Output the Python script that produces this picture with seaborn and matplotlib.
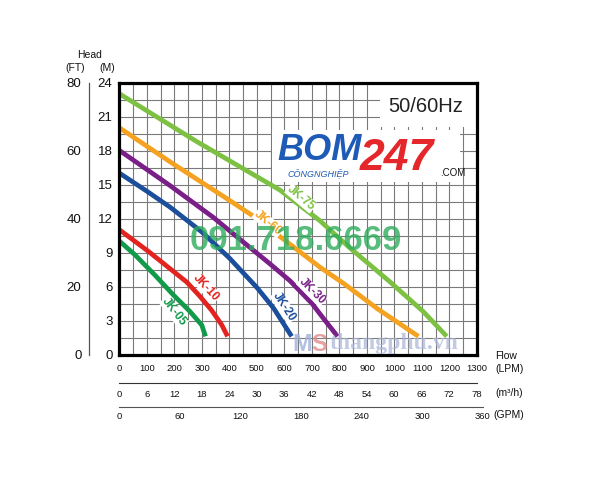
import matplotlib
matplotlib.use("Agg")
import matplotlib.pyplot as plt
from matplotlib.ticker import MultipleLocator, FixedLocator
from matplotlib.patches import Rectangle
import seaborn as sns
import pandas as pd

# ---------------- data ----------------
models = ["JK-05", "JK-10", "JK-20", "JK-30", "JK-60", "JK-75"]

flow_jk05 = [0, 56, 129, 196, 256, 299, 313]
head_jk05 = [10.0, 8.8, 7.0, 5.25, 3.8, 2.6, 1.6]

flow_jk10 = [0, 105, 244, 290, 335, 372, 393]
head_jk10 = [11.0, 9.1, 6.4, 5.2, 3.9, 2.6, 1.6]

flow_jk20 = [0, 100, 184, 300, 400, 500, 560, 626]
head_jk20 = [16.0, 14.4, 13.0, 10.8, 8.5, 5.9, 4.1, 1.6]

flow_jk30 = [0, 184, 341, 426, 547, 620, 700, 741, 793]
head_jk30 = [18.0, 14.9, 12.1, 10.4, 8.0, 6.5, 4.5, 3.2, 1.6]

flow_jk60 = [0, 184, 400, 487, 600, 729, 819, 940, 1087]
head_jk60 = [20.0, 17.0, 13.6, 12.2, 10.1, 7.7, 6.2, 4.0, 1.6]

flow_jk75 = [0, 280, 584, 729, 838, 984, 1104, 1190]
head_jk75 = [23.0, 18.8, 14.5, 11.8, 9.4, 6.4, 3.8, 1.6]

colors = ["#109A4A", "#E2231F", "#1B4F9B", "#7A1E88", "#F4A21F", "#7CC142"]

label_flow = [198, 315, 598, 700, 540, 660]
label_head = [3.75, 5.9, 4.2, 5.6, 11.6, 13.8]
label_rot = [-52, -47, -57, -45, -40, -40]

lpm_ticks = list(range(0, 1301, 100))
m3h_ticks = list(range(0, 79, 6))
gpm_ticks = list(range(0, 361, 60))
ft_ticks = [0, 20, 40, 60, 80]
m_ticks = list(range(0, 25, 3))

# ---------------- build table ----------------
flows = [flow_jk05, flow_jk10, flow_jk20, flow_jk30, flow_jk60, flow_jk75]
heads = [head_jk05, head_jk10, head_jk20, head_jk30, head_jk60, head_jk75]
rows = []
for m, fl, hd in zip(models, flows, heads):
    for f, h in zip(fl, hd):
        rows.append({"model": m, "flow": f, "head": h})
df = pd.DataFrame(rows)

# ---------------- style ----------------
sns.set_theme(style="white")
plt.rcParams["font.family"] = ["Liberation Sans", "DejaVu Sans"]

W, H = 597, 480
fig = plt.figure(figsize=(W / 100, H / 100), dpi=100)
fig.patch.set_facecolor("white")


def rect(x0, y0, x1, y1):
    return [x0 / W, 1 - y1 / H, (x1 - x0) / W, (y1 - y0) / H]


def ftxt(x, y, s, **kw):
    return fig.text(x / W, 1 - y / H, s, **kw)


# ---------------- main axes ----------------
ax = fig.add_axes(rect(119.5, 82.5, 477, 354.5))
ax.set_facecolor("white")
ax.set_xlim(0, 1300)
ax.set_ylim(0, 24)
ax.xaxis.set_major_locator(FixedLocator(lpm_ticks))
ax.xaxis.set_minor_locator(MultipleLocator(50))
ax.yaxis.set_major_locator(FixedLocator(m_ticks))
ax.yaxis.set_minor_locator(MultipleLocator(1.5))
ax.set_axisbelow(True)
ax.grid(which="both", color="#7a7a7a", linewidth=0.8)
ax.tick_params(which="both", length=0)
ax.tick_params(axis="x", labelsize=6.8, pad=7, colors="#111")
ax.tick_params(axis="y", labelsize=9.5, pad=5, colors="#111")
for sp in ax.spines.values():
    sp.set_color("black")
    sp.set_linewidth(2.3)
    sp.set_zorder(5)

# white boxes (frequency box + logo background)
ax.add_patch(Rectangle((0.7287, 0.836), 0.2713, 0.164, transform=ax.transAxes,
                       facecolor="white", edgecolor="none", zorder=1.5))
ax.add_patch(Rectangle((0.4266, 0.634), 0.526, 0.19, transform=ax.transAxes,
                       facecolor="white", edgecolor="none", zorder=1.5))

sns.lineplot(data=df, x="flow", y="head", hue="model", hue_order=models,
             palette=colors, sort=False, estimator=None, linewidth=3.4,
             legend=False, ax=ax, zorder=3)
for ln in ax.get_lines():
    ln.set_solid_capstyle("butt")
    ln.set_solid_joinstyle("round")
ax.set_xlabel("")
ax.set_ylabel("")

for m, c, xf, yh, r in zip(models, colors, label_flow, label_head, label_rot):
    ax.text(xf, yh, m, color=c, fontsize=8.5, fontweight="bold", rotation=r,
            ha="center", va="center", rotation_mode="anchor", zorder=4,
            bbox=dict(facecolor="white", edgecolor="none", pad=0.3))

ax.text(0.857, 0.91, "50/60Hz", transform=ax.transAxes, fontsize=14.5,
        color="#222", ha="center", va="center", zorder=4)

# ---------------- FT axis ----------------
axft = fig.add_axes(rect(88.5, 82.5, 88.7, 354.5))
axft.patch.set_visible(False)
axft.set_ylim(0, 80)
axft.set_xticks([])
axft.yaxis.set_major_locator(FixedLocator(ft_ticks))
for k in ["top", "right", "bottom"]:
    axft.spines[k].set_visible(False)
axft.spines["left"].set_color("#555")
axft.spines["left"].set_linewidth(0.9)
axft.tick_params(axis="y", direction="out", length=3.5, width=0.9, color="#555",
                 labelsize=9.5, pad=1.5, labelcolor="#111")

# ---------------- m3/h axis ----------------
axm = fig.add_axes([119.5 / W, 1 - 382.7 / H, 357 / W, 1e-4])
axm.patch.set_visible(False)
axm.set_xlim(0, 78)
axm.set_yticks([])
axm.xaxis.set_major_locator(FixedLocator(m3h_ticks))
axm.xaxis.set_minor_locator(MultipleLocator(3))
for k in ["top", "right", "left"]:
    axm.spines[k].set_visible(False)
axm.spines["bottom"].set_color("#333")
axm.spines["bottom"].set_linewidth(0.8)
axm.tick_params(which="both", axis="x", direction="inout", length=5.5, width=0.8,
                color="#333", labelsize=6.8, pad=2.5, labelcolor="#111")

# ---------------- GPM axis ----------------
axg = fig.add_axes([119.5 / W, 1 - 406.7 / H, 363 / W, 1e-4])
axg.patch.set_visible(False)
axg.set_xlim(0, 360)
axg.set_yticks([])
axg.xaxis.set_major_locator(FixedLocator(gpm_ticks))
for k in ["top", "right", "left"]:
    axg.spines[k].set_visible(False)
axg.spines["bottom"].set_color("#555")
axg.spines["bottom"].set_linewidth(0.8)
axg.tick_params(axis="x", direction="in", length=3.5, width=0.8, color="#555",
                labelsize=6.8, pad=4, labelcolor="#111")

# ---------------- axis captions ----------------
ftxt(90, 55, "Head", fontsize=7.5, ha="center", va="center", color="#111")
ftxt(75, 68, "(FT)", fontsize=7.5, ha="center", va="center", color="#111")
ftxt(107, 68, "(M)", fontsize=7.5, ha="center", va="center", color="#111")
ftxt(495, 356, "Flow", fontsize=7.5, ha="left", va="center", color="#111")
ftxt(495, 369, "(LPM)", fontsize=7.5, ha="left", va="center", color="#111")
ftxt(495, 393, "(m³/h)", fontsize=7.5, ha="left", va="center", color="#111")
ftxt(493, 415, "(GPM)", fontsize=7.5, ha="left", va="center", color="#111")

# ---------------- watermarks ----------------
ftxt(277, 168, "BOM", fontsize=26, fontweight="bold", fontstyle="italic",
     color="#1E5BB6", ha="left", va="bottom", zorder=6)
ftxt(360, 179, "247", fontsize=32, fontweight="bold", fontstyle="italic",
     color="#E5262B", ha="left", va="bottom", zorder=6)
ftxt(287, 168, "CÔNGNGHIỆP", fontsize=6.5, fontstyle="italic",
     color="#1E5BB6", ha="left", va="top", zorder=6)
ftxt(440, 168, ".COM", fontsize=7, color="#111", ha="left", va="top", zorder=6)
ftxt(296, 240, "091.718.6669", fontsize=25, fontweight="bold",
     color="#2EAD5B", alpha=0.8, ha="center", va="center", zorder=6)
ftxt(292, 351, "M", fontsize=17, fontweight="bold", color="#9FB0DA",
     alpha=0.8, ha="left", va="baseline", zorder=6)
ftxt(311, 351, "S", fontsize=17, fontweight="bold", color="#E08A8A",
     alpha=0.8, ha="left", va="baseline", zorder=6)
ftxt(330, 349, "thangphu.vn", fontsize=17, fontweight="bold",
     family=["Liberation Serif", "DejaVu Serif"], color="#AEB8DA",
     alpha=0.75, ha="left", va="baseline", zorder=6)

fig.savefig("out.png", dpi=100, facecolor="white")
